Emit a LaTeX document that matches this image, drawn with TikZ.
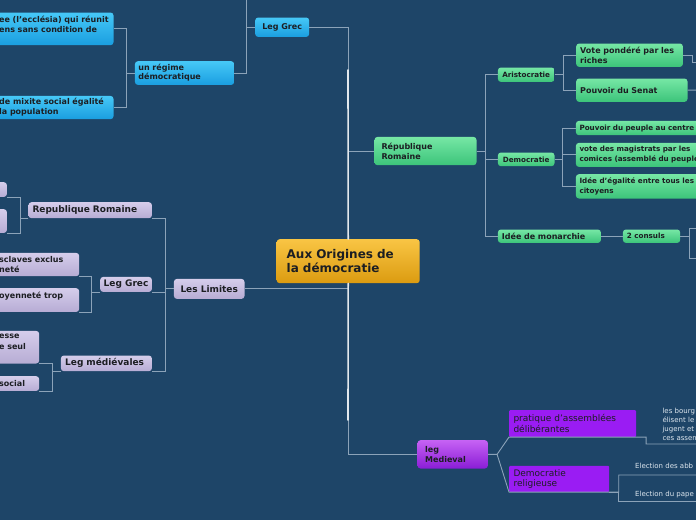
\documentclass[tikz,border=0pt]{standalone}
\usepackage{fontspec}
\setmainfont{DejaVu Sans}
\definecolor{mapbg}{RGB}{30,69,104}
\definecolor{maplink}{RGB}{140,163,185}
\definecolor{mapgoldtop}{RGB}{249,197,68}
\definecolor{mapgoldbot}{RGB}{219,155,16}
\definecolor{mapbluetop}{RGB}{70,200,247}
\definecolor{mapbluebot}{RGB}{26,158,224}
\definecolor{mapgreentop}{RGB}{118,231,165}
\definecolor{mapgreenbot}{RGB}{60,196,122}
\definecolor{maplavtop}{RGB}{213,205,235}
\definecolor{maplavbot}{RGB}{183,172,212}
\definecolor{mappurptop}{RGB}{198,98,244}
\definecolor{mappurpbot}{RGB}{138,29,214}
\definecolor{mapviolet}{RGB}{154,28,243}
\definecolor{mapink}{RGB}{28,30,34}
\definecolor{mapnote}{RGB}{221,230,238}
\usepackage{tikz}

\begin{document}
\begin{tikzpicture}[
    x=1pt, y=-1pt,
    every node/.style={text=mapink},
    topic/.style={anchor=north west, rounded corners=3pt, align=left, inner ysep=0pt},
    central/.style={topic, top color=mapgoldtop, bottom color=mapgoldbot, font=\fontsize{12}{14}\selectfont\bfseries},
    bluebox/.style={topic, top color=mapbluetop, bottom color=mapbluebot, font=\fontsize{8}{9.5}\selectfont\bfseries},
    greenbox/.style={topic, top color=mapgreentop, bottom color=mapgreenbot, font=\fontsize{8}{9.5}\selectfont\bfseries},
    lavbox/.style={topic, top color=maplavtop, bottom color=maplavbot, font=\fontsize{9}{10.5}\selectfont\bfseries},
    purpbox/.style={topic, top color=mappurptop, bottom color=mappurpbot, font=\fontsize{8}{9.5}\selectfont\bfseries},
    violetbox/.style={topic, rounded corners=1pt, fill=mapviolet, font=\fontsize{9}{10.7}\selectfont},
    small/.style={font=\fontsize{7.2}{10}\selectfont\bfseries},
    note/.style={inner sep=0pt, align=left, text=mapnote, font=\fontsize{7}{9}\selectfont},
    link/.style={draw=maplink, line width=0.9pt},
    glow/.style={draw=white!75!maplink, line width=1.6pt, line cap=round},
]
\useasboundingbox (0,0) rectangle (696,520);
\fill[mapbg] (0,0) rectangle (696,520);
\clip (0,0) rectangle (696,520);

\node[central, inner xsep=10pt, text width=123pt, minimum height=44pt] (center) at (276.5,239) {Aux Origines de\\la démocratie};

\node[bluebox, minimum width=54pt, minimum height=19.4pt, align=center] (bgrec) at (255,17.3) {Leg Grec};
\node[bluebox, inner xsep=3.5pt, text width=92.3pt, minimum height=23.7pt, font=\fontsize{8}{9}\selectfont\bfseries] (regime) at (134.7,61) {un régime\\démocratique};
\node[bluebox, inner xsep=2pt, text width=112.3pt, minimum height=32.7pt, font=\fontsize{8}{10}\selectfont\bfseries] (bbox1) at (-3,12.3) {ee (l'ecclésia) qui réunit\\ens sans condition de\\\mbox{}};
\node[bluebox, inner xsep=2pt, text width=112.3pt, minimum height=23.3pt, font=\fontsize{8}{10}\selectfont\bfseries] (bbox2) at (-3,95.7) {de mixite social égalité\\la population};

\node[greenbox, inner xsep=7pt, text width=88pt, minimum height=28.3pt, font=\fontsize{8}{10}\selectfont\bfseries] (repr) at (374.3,136.7) {République\\Romaine};
\node[greenbox, small, minimum width=56.6pt, minimum height=14.4pt, align=center] (aristo) at (497.7,67.3) {Aristocratie};
\node[greenbox, small, minimum width=56.6pt, minimum height=13.7pt, align=center] (democ) at (497.7,152.3) {Democratie};
\node[greenbox, inner xsep=4pt, text width=95pt, minimum height=13.4pt] (monarchie) at (497.7,229.3) {Idée de monarchie};
\node[greenbox, small, inner xsep=4pt, text width=49.3pt, minimum height=13.4pt] (consuls) at (622.7,229.3) {2 consuls};
\node[greenbox, inner xsep=4pt, text width=98.7pt, minimum height=23.4pt] (vote) at (576,43.3) {Vote pondéré par les\\riches};
\node[greenbox, inner xsep=4pt, text width=103.3pt, minimum height=23.4pt] (senat) at (576,78.3) {Pouvoir du Senat};
\node[greenbox, small, inner xsep=3.6pt, text width=133pt, minimum height=14.3pt] (peuple) at (575.7,120.7) {Pouvoir du peuple au centre};
\node[greenbox, small, inner xsep=3.6pt, text width=133pt, minimum height=24pt] (magis) at (575.7,142.7) {vote des magistrats par les\\comices (assemblé du peuple)};
\node[greenbox, small, inner xsep=3.6pt, text width=133pt, minimum height=24.3pt] (egal) at (575.7,174) {Idée d'égalité entre tous les\\citoyens};

\node[lavbox, minimum width=70.6pt, minimum height=20pt, align=center] (limites) at (173.7,278.7) {Les Limites};
\node[lavbox, inner xsep=4pt, text width=115.4pt, minimum height=16pt] (lrr) at (28.3,202) {Republique Romaine};
\node[lavbox, minimum width=51.7pt, minimum height=15pt, align=center] (lgrec) at (100,276.7) {Leg Grec};
\node[lavbox, inner xsep=4.3pt, text width=82.4pt, minimum height=15.7pt] (lmed) at (60.7,355.3) {Leg médiévales};
\node[lavbox, minimum width=16.7pt, minimum height=14.7pt] (lbox1) at (-10,182) {};
\node[lavbox, minimum width=16.7pt, minimum height=23.7pt] (lbox2) at (-10,209) {};
\node[lavbox, inner xsep=2pt, text width=78pt, minimum height=23.3pt, font=\fontsize{8}{10}\selectfont\bfseries] (lesc) at (-3,252.7) {sclaves exclus\\neté};
\node[lavbox, inner xsep=2pt, text width=78pt, minimum height=23.7pt, font=\fontsize{8}{10}\selectfont\bfseries] (ltrop) at (-3,288) {oyenneté trop\\\mbox{}};
\node[lavbox, inner xsep=2pt, text width=38pt, minimum height=32.6pt, font=\fontsize{8}{10.5}\selectfont\bfseries] (lesse) at (-3,330.7) {esse\\e seul\\\mbox{}};
\node[lavbox, inner xsep=2pt, text width=38pt, minimum height=14.7pt, font=\fontsize{8}{10}\selectfont\bfseries] (lsoc) at (-3,376) {social};

\node[purpbox, inner xsep=7.7pt, text width=55pt, minimum height=28.3pt] (legmed) at (417.3,440) {leg\\Medieval};
\node[violetbox, inner xsep=4.3pt, text width=118.4pt, minimum height=26.7pt] (prat) at (509,410) {pratique d'assemblées\\délibérantes};
\node[violetbox, inner xsep=4.3pt, text width=91.4pt, minimum height=26pt] (relig) at (509,465.7) {Democratie\\religieuse};

\node[note, anchor=north west] (bourg) at (662.3,407.7) {les bourg\\élisent le\\jugent et\\ces assem};
\node[note, anchor=base west] (abb) at (635,468.5) {Election des abb};
\node[note, anchor=base west] (pape) at (635,496) {Election du pape};

\coordinate (bgup) at (246.7,-5);
\coordinate (voteout) at (700,62);
\coordinate (senatout) at (700,90);
\coordinate (cons1) at (700,228);
\coordinate (cons2) at (700,258.3);
\coordinate (bourgout) at (700,444);
\coordinate (abbout) at (700,475);
\coordinate (papeout) at (700,501.7);
\coordinate (glowtop) at (348,70);
\coordinate (glowbot) at (348,420);

\draw[link] (center.north) |- (bgrec.east);
\draw[link] (center.north) |- (repr.west);
\draw[link] (center.south) |- (limites.east);
\draw[link] (center.south) |- (legmed.west);
\draw[glow] (center.north) -- (glowtop);
\draw[glow] (center.south) -- (glowbot);

\draw[link] (regime.east) -| (bgup);
\draw[link] (bgrec.west) -- (bgrec.west -| bgup);
\draw[link] (regime.west) -- ++(-8,0) |- (bbox1.east);
\draw[link] (regime.west) -- ++(-8,0) |- (bbox2.east);

\draw[link] (repr.east) -- ++(9,0) |- (aristo.west);
\draw[link] (repr.east) -- ++(9,0) |- (democ.west);
\draw[link] (repr.east) -- ++(9,0) |- (monarchie.west);
\draw[link] (aristo.east) -- ++(9,0) |- (vote.west);
\draw[link] (aristo.east) -- ++(9,0) |- (senat.west);
\draw[link] (democ.east) -- ++(8,0) |- (peuple.west);
\draw[link] (democ.east) -- ++(8,0) |- (magis.west);
\draw[link] (democ.east) -- ++(8,0) |- (egal.west);
\draw[link] (monarchie) -- (consuls);
\draw[link] (consuls.east) -- ++(9,0) |- (cons1);
\draw[link] (consuls.east) -- ++(9,0) |- (cons2);
\draw[link] (vote.east) -- ++(9,0) |- (voteout);
\draw[link] (senat.east) -- (senatout);

\draw[link] (limites.west) -- ++(-8.7,0) |- (lrr.south east);
\draw[link] (limites.west) -- ++(-8.7,0) |- (lgrec.south east);
\draw[link] (limites.west) -- ++(-8.7,0) |- (lmed.south east);
\draw[link] (lrr.south west) -- ++(-8.3,0) |- (lbox1.south east);
\draw[link] (lrr.south west) -- ++(-8.3,0) |- (lbox2.south east);
\draw[link] (lgrec.south west) -- ++(-8.3,0) |- (lesc.south east);
\draw[link] (lgrec.south west) -- ++(-8.3,0) |- (ltrop.south east);
\draw[link] (lmed.south west) -- ++(-8.4,0) |- (lesse.south east);
\draw[link] (lmed.south west) -- ++(-8.4,0) |- (lsoc.south east);

\draw[link] (legmed.east) -- ++(9,0) coordinate (medfork) -- (prat.south west) -- (prat.south east) -- ++(9.7,0) |- (bourgout);
\draw[link] (medfork) -- (relig.south west) -- (relig.south east) -- ++(9.3,0) |- (abbout);
\draw[link] (relig.south east) -- ++(9.3,0) |- (papeout);

\end{tikzpicture}
\end{document}
